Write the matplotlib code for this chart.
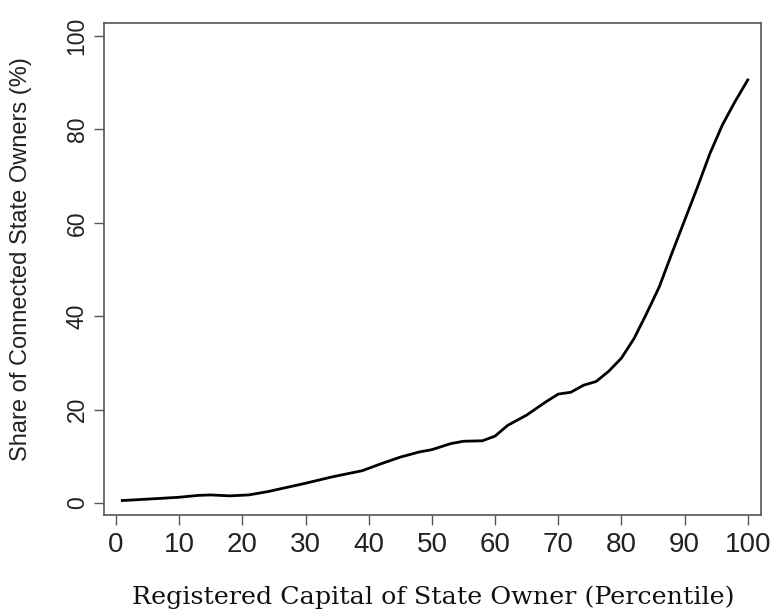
import matplotlib
matplotlib.use("Agg")
import matplotlib.pyplot as plt

# Percentile of registered capital vs share of connected state owners (%)
percentile = [1, 5, 10, 13, 15, 18, 21, 24, 27, 30, 34, 39, 42, 45, 48, 50,
              53, 55, 58, 60, 62, 65, 68, 70, 72, 74, 76, 78, 80, 82, 84, 86,
              88, 90, 92, 94, 96, 98, 100]
share = [0.5, 0.8, 1.2, 1.6, 1.7, 1.5, 1.7, 2.4, 3.3, 4.2, 5.5, 6.9, 8.4,
         9.8, 10.9, 11.4, 12.7, 13.2, 13.3, 14.3, 16.6, 18.8, 21.6, 23.3,
         23.7, 25.2, 26.0, 28.2, 31.0, 35.2, 40.6, 46.3, 53.5, 60.5, 67.5,
         74.8, 81.0, 86.0, 90.6]

xticks = [0, 10, 20, 30, 40, 50, 60, 70, 80, 90, 100]
yticks = [0, 20, 40, 60, 80, 100]

fig = plt.figure(figsize=(7.73, 6.12), dpi=100)
ax = fig.add_axes([0.1345, 0.1585, 0.85, 0.8039])

ax.plot(percentile, share, color='black', linewidth=2.0)

ax.set_xlim(-1.9, 102.1)
ax.set_ylim(-2.6, 102.8)
ax.set_xticks(xticks)
ax.set_yticks(yticks)

for s in ax.spines.values():
    s.set_color('#555555')
    s.set_linewidth(1.2)

ax.tick_params(axis='x', direction='out', length=7, width=1, color='#555555',
               labelsize=20, labelcolor='#222222', pad=5)
ax.tick_params(axis='y', direction='out', length=7, width=1, color='#555555',
               labelsize=16.5, labelcolor='#222222', pad=4)
for lbl in ax.get_xticklabels() + ax.get_yticklabels():
    lbl.set_family('Liberation Sans')
for lbl in ax.get_yticklabels():
    lbl.set_rotation(90)
    lbl.set_va('center')

ax.set_ylabel('Share of Connected State Owners (%)', family='Liberation Sans',
              fontsize=17, color='#222222')
ax.yaxis.set_label_coords(-0.11, 0.52)
fig.text(0.56, 0.005, 'Registered Capital of State Owner (Percentile)',
         family='DejaVu Serif', fontsize=18.3, color='#111111', ha='center', va='bottom')

fig.savefig('out.png', dpi=100)
